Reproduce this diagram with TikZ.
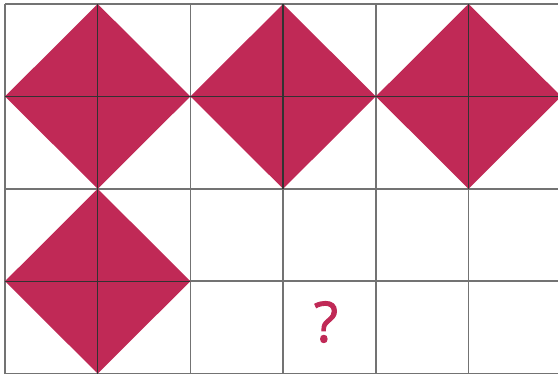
\documentclass[tikz,border=0pt]{standalone}
\usepackage{fontspec}
\usetikzlibrary{calc}
\newfontfamily\qfont[FakeBold=1.6]{Open Sans}
\definecolor{dia}{RGB}{192,41,86}
\definecolor{gridc}{RGB}{115,115,115}
\definecolor{darkc}{RGB}{50,50,50}
\tikzset{
  gridline/.style={draw=gridc,line width=1.5pt},
  diag/.style={draw=darkc,line width=1.4pt},
  diamondfill/.style={fill=dia},
}
\begin{document}
\begin{tikzpicture}[x=1pt,y=-1pt]
\useasboundingbox (0,0) rectangle (558,376);
\clip (0,0) rectangle (558,376);
\fill[white] (0,0) rectangle (558,376);
\def\sx{92.7}
\def\sy{92.4}
% grid
\foreach \i in {0,...,5} {
  \draw[gridline] ({5+\i*\sx},4) -- ({5+\i*\sx},{4+4*\sy});
}
\foreach \j in {0,...,4} {
  \draw[gridline] (5,{4+\j*\sy}) -- (600,{4+\j*\sy});
}
% diamonds
\foreach \cx/\cy in {1/1,3/1,5/1,1/3} {
  \coordinate (c) at ({5+\cx*\sx},{4+\cy*\sy});
  \fill[diamondfill] ($(c)+(-\sx,0)$) -- ($(c)+(0,-\sy)$) -- ($(c)+(\sx,0)$) -- ($(c)+(0,\sy)$) -- cycle;
  \draw[diag] ($(c)+(-\sx,0)$) -- ($(c)+(\sx,0)$);
  \draw[diag] ($(c)+(0,-\sy)$) -- ($(c)+(0,\sy)$);
}
\node[text=dia,font=\qfont\fontsize{56}{56}\selectfont] (q) at (326,322) {?};
\end{tikzpicture}
\end{document}
